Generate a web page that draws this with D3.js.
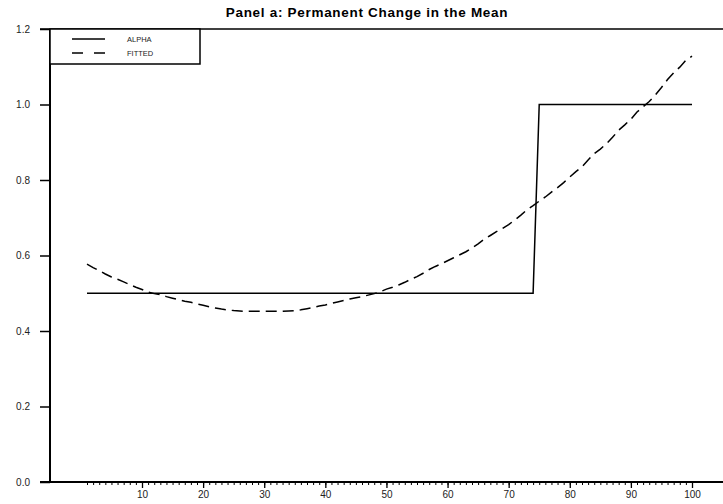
<!DOCTYPE html>
<html>
<head>
<meta charset="utf-8">
<script src="https://cdn.jsdelivr.net/npm/d3@7"></script>
<style>
  body { margin: 0; background: #fff; }
  svg { display: block; font-family: "Liberation Sans", Arial, sans-serif; }
</style>
</head>
<body>
<div id="chart"></div>
<script>
// chart data
var periods = d3.range(1, 101);
var alphaValues = [
    0.5, 0.5, 0.5, 0.5, 0.5, 0.5, 0.5, 0.5, 0.5, 0.5,
    0.5, 0.5, 0.5, 0.5, 0.5, 0.5, 0.5, 0.5, 0.5, 0.5,
    0.5, 0.5, 0.5, 0.5, 0.5, 0.5, 0.5, 0.5, 0.5, 0.5,
    0.5, 0.5, 0.5, 0.5, 0.5, 0.5, 0.5, 0.5, 0.5, 0.5,
    0.5, 0.5, 0.5, 0.5, 0.5, 0.5, 0.5, 0.5, 0.5, 0.5,
    0.5, 0.5, 0.5, 0.5, 0.5, 0.5, 0.5, 0.5, 0.5, 0.5,
    0.5, 0.5, 0.5, 0.5, 0.5, 0.5, 0.5, 0.5, 0.5, 0.5,
    0.5, 0.5, 0.5, 0.5, 1.0, 1.0, 1.0, 1.0, 1.0, 1.0,
    1.0, 1.0, 1.0, 1.0, 1.0, 1.0, 1.0, 1.0, 1.0, 1.0,
    1.0, 1.0, 1.0, 1.0, 1.0, 1.0, 1.0, 1.0, 1.0, 1.0
];
var fittedValues = [
    0.577, 0.568, 0.560, 0.551, 0.543, 0.537, 0.530, 0.523, 0.516, 0.510,
    0.503, 0.499, 0.496, 0.491, 0.487, 0.483, 0.479, 0.476, 0.472, 0.468,
    0.464, 0.461, 0.458, 0.456, 0.454, 0.453, 0.452, 0.452, 0.452, 0.452,
    0.452, 0.452, 0.452, 0.453, 0.454, 0.456, 0.459, 0.462, 0.466, 0.469,
    0.473, 0.477, 0.481, 0.485, 0.488, 0.491, 0.495, 0.499, 0.504, 0.511,
    0.516, 0.522, 0.529, 0.537, 0.544, 0.553, 0.563, 0.571, 0.578, 0.586,
    0.594, 0.602, 0.610, 0.620, 0.631, 0.643, 0.653, 0.663, 0.672, 0.682,
    0.694, 0.707, 0.721, 0.732, 0.744, 0.755, 0.768, 0.780, 0.793, 0.808,
    0.822, 0.835, 0.853, 0.870, 0.882, 0.896, 0.913, 0.932, 0.946, 0.961,
    0.980, 0.994, 1.008, 1.025, 1.045, 1.066, 1.084, 1.099, 1.117, 1.128
];
var yTicks = [0.0, 0.2, 0.4, 0.6, 0.8, 1.0, 1.2];
var xLabelTicks = [10, 20, 30, 40, 50, 60, 70, 80, 90, 100];
var seriesNames = ['ALPHA', 'FITTED'];
var chartTitle = 'Panel a: Permanent Change in the Mean';

var width = 723;
var height = 504;
var axisLeftX = 50;    // vertical axis position
var axisStartX = 40;   // horizontal lines start here (tick stubs)

var svg = d3.select("#chart")
    .append("svg")
    .attr("width", width)
    .attr("height", height);

var x = d3.scaleLinear().domain([1, 100]).range([87, 692]);
var y = d3.scaleLinear().domain([0, 1.2]).range([482, 29]);

// title
svg.append("text")
    .attr("x", 367)
    .attr("y", 17)
    .attr("text-anchor", "middle")
    .style("font-size", "13.5px")
    .style("letter-spacing", "0.7px")
    .style("font-weight", "bold")
    .text(chartTitle);

// y-axis: ticks on the left, labels outside
var yAxis = d3.axisLeft(y)
    .tickValues(yTicks)
    .tickSize(10)
    .tickPadding(10)
    .tickFormat(d3.format(".1f"));
var yg = svg.append("g")
    .attr("transform", "translate(" + axisLeftX + ",0)")
    .call(yAxis);
yg.select(".domain").remove();
yg.selectAll("line").attr("stroke", "#000").attr("stroke-width", 1.5);
yg.selectAll("text").style("font-size", "10px").attr("fill", "#222");

svg.append("line")
    .attr("x1", axisLeftX).attr("x2", axisLeftX)
    .attr("y1", y(1.2)).attr("y2", y(0))
    .attr("stroke", "#000").attr("stroke-width", 2);

// top border and baseline run across the whole width
svg.append("line")
    .attr("x1", axisStartX).attr("x2", width)
    .attr("y1", y(1.2)).attr("y2", y(1.2))
    .attr("stroke", "#000").attr("stroke-width", 1.5);
svg.append("line")
    .attr("x1", axisStartX).attr("x2", width)
    .attr("y1", y(0)).attr("y2", y(0))
    .attr("stroke", "#000").attr("stroke-width", 2);

// x-axis minor ticks every period, longer ticks with labels every 10
var xMinor = d3.axisBottom(x).tickValues(periods).tickSize(3).tickFormat("");
var xg1 = svg.append("g")
    .attr("transform", "translate(0," + y(0) + ")")
    .call(xMinor);
xg1.select(".domain").remove();
xg1.selectAll("line").attr("stroke", "#000").attr("stroke-width", 1);

var xMajor = d3.axisBottom(x).tickValues(xLabelTicks).tickSize(6).tickPadding(3);
var xg2 = svg.append("g")
    .attr("transform", "translate(0," + y(0) + ")")
    .call(xMajor);
xg2.select(".domain").remove();
xg2.selectAll("line").attr("stroke", "#000").attr("stroke-width", 1.3);
xg2.selectAll("text").style("font-size", "10px").attr("fill", "#222");

// series lines
var alphaData = periods.map(function (p, i) { return { x: p, y: alphaValues[i] }; });
var fittedData = periods.map(function (p, i) { return { x: p, y: fittedValues[i] }; });

var line = d3.line()
    .x(function (d) { return x(d.x); })
    .y(function (d) { return y(d.y); });

svg.append("path")
    .datum(alphaData)
    .attr("d", line)
    .attr("fill", "none")
    .attr("stroke", "#000")
    .attr("stroke-width", 1.5);

svg.append("path")
    .datum(fittedData)
    .attr("d", line)
    .attr("fill", "none")
    .attr("stroke", "#000")
    .attr("stroke-width", 1.5)
    .attr("stroke-dasharray", "11,6");

// legend box
svg.append("rect")
    .attr("x", axisLeftX)
    .attr("y", y(1.2))
    .attr("width", 150)
    .attr("height", 35)
    .attr("fill", "#fff")
    .attr("stroke", "#000")
    .attr("stroke-width", 1.5);

var legend = svg.selectAll(".legendItem")
    .data(seriesNames)
    .enter()
    .append("g")
    .attr("class", "legendItem")
    .attr("transform", function (d, idx) { return "translate(0," + (39 + idx * 14) + ")"; });

legend.append("line")
    .attr("x1", 72).attr("x2", 105)
    .attr("y1", 0).attr("y2", 0)
    .attr("stroke", "#000")
    .attr("stroke-width", 1.5)
    .attr("stroke-dasharray", function (d, idx) { return idx == 1 ? "11,11" : null; });

legend.append("text")
    .attr("x", 127)
    .attr("y", 0)
    .attr("dy", ".35em")
    .style("font-size", "7.5px")
    .attr("fill", "#222")
    .text(function (d) { return d; });
</script>
</body>
</html>
